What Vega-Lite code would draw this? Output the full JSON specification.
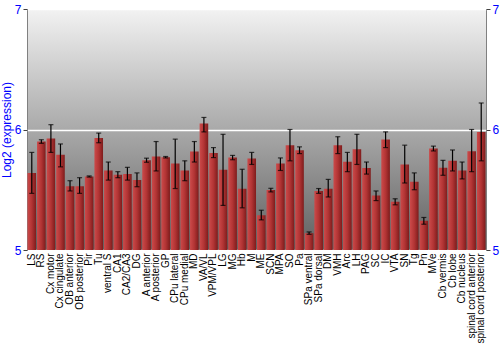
{
  "$schema": "https://vega.github.io/schema/vega-lite/v6.json",
  "width": 459,
  "height": 241,
  "autosize": "none",
  "padding": {"left": 27, "top": 9, "right": 14, "bottom": 100},
  "background": "white",
  "view": {
    "stroke": "#808080",
    "fill": {"gradient": "linear", "x1": 0, "y1": 0, "x2": 0, "y2": 1, "stops": [{"offset": 0, "color": "#f2f2f2"}, {"offset": 1, "color": "#606060"}]}
  },
  "config": {
    "font": "Liberation Sans",
    "axis": {"domainColor": "#808080", "tickColor": "#404040"}
  },
  "data": {"values": [
    {"region": "LS", "value": 5.64, "lo": 5.47, "hi": 5.81},
    {"region": "RS", "value": 5.90, "lo": 5.885, "hi": 5.915},
    {"region": "Cx motor", "value": 5.925, "lo": 5.81, "hi": 6.04},
    {"region": "Cx cingulate", "value": 5.79, "lo": 5.69, "hi": 5.88},
    {"region": "OB anterior", "value": 5.53, "lo": 5.49, "hi": 5.575},
    {"region": "OB posterior", "value": 5.53, "lo": 5.47, "hi": 5.60},
    {"region": "Pir", "value": 5.61, "lo": 5.605, "hi": 5.615},
    {"region": "Tu", "value": 5.93, "lo": 5.89, "hi": 5.97},
    {"region": "ventral S", "value": 5.66, "lo": 5.58, "hi": 5.73},
    {"region": "CA1", "value": 5.625, "lo": 5.60, "hi": 5.65},
    {"region": "CA2/CA3", "value": 5.63, "lo": 5.58, "hi": 5.686},
    {"region": "DG", "value": 5.58, "lo": 5.525, "hi": 5.64},
    {"region": "A anterior", "value": 5.745, "lo": 5.728, "hi": 5.762},
    {"region": "A posterior", "value": 5.775, "lo": 5.656, "hi": 5.90},
    {"region": "GP", "value": 5.77, "lo": 5.764, "hi": 5.776},
    {"region": "CPu lateral", "value": 5.717, "lo": 5.51, "hi": 5.92},
    {"region": "CPu medial", "value": 5.66, "lo": 5.575, "hi": 5.74},
    {"region": "MD", "value": 5.817, "lo": 5.73, "hi": 5.90},
    {"region": "VA/VL", "value": 6.05, "lo": 5.98, "hi": 6.10},
    {"region": "VPM/VPL", "value": 5.805, "lo": 5.767, "hi": 5.85},
    {"region": "LG", "value": 5.667, "lo": 5.37, "hi": 5.96},
    {"region": "MG", "value": 5.767, "lo": 5.749, "hi": 5.785},
    {"region": "Hb", "value": 5.508, "lo": 5.35, "hi": 5.67},
    {"region": "M", "value": 5.76, "lo": 5.71, "hi": 5.81},
    {"region": "ME", "value": 5.289, "lo": 5.25, "hi": 5.33},
    {"region": "SCN", "value": 5.497, "lo": 5.482, "hi": 5.512},
    {"region": "MPA", "value": 5.717, "lo": 5.66, "hi": 5.764},
    {"region": "SO", "value": 5.87, "lo": 5.74, "hi": 6.0},
    {"region": "Pa", "value": 5.828, "lo": 5.80, "hi": 5.856},
    {"region": "SPa ventral", "value": 5.14, "lo": 5.13, "hi": 5.15},
    {"region": "SPa dorsal", "value": 5.49, "lo": 5.47, "hi": 5.51},
    {"region": "DM", "value": 5.508, "lo": 5.44, "hi": 5.586},
    {"region": "VMH", "value": 5.87, "lo": 5.80, "hi": 5.94},
    {"region": "Arc", "value": 5.733, "lo": 5.65, "hi": 5.81},
    {"region": "LH", "value": 5.836, "lo": 5.71, "hi": 5.96},
    {"region": "PAG", "value": 5.68, "lo": 5.63, "hi": 5.73},
    {"region": "SC", "value": 5.453, "lo": 5.41, "hi": 5.49},
    {"region": "IC", "value": 5.917, "lo": 5.85, "hi": 5.98},
    {"region": "VTA", "value": 5.40, "lo": 5.375, "hi": 5.425},
    {"region": "SN", "value": 5.71, "lo": 5.556, "hi": 5.87},
    {"region": "Tg", "value": 5.567, "lo": 5.50, "hi": 5.64},
    {"region": "Pn", "value": 5.242, "lo": 5.214, "hi": 5.27},
    {"region": "MVe", "value": 5.842, "lo": 5.822, "hi": 5.862},
    {"region": "Cb vermis", "value": 5.683, "lo": 5.62, "hi": 5.744},
    {"region": "Cb lobe", "value": 5.74, "lo": 5.656, "hi": 5.83},
    {"region": "Cb nucleus", "value": 5.66, "lo": 5.59, "hi": 5.73},
    {"region": "spinal cord anterior", "value": 5.82, "lo": 5.65, "hi": 6.0},
    {"region": "spinal cord posterior", "value": 5.98, "lo": 5.74, "hi": 6.22}
  ]},
  "encoding": {
    "x": {
      "field": "region", "type": "nominal", "sort": null,
      "scale": {"paddingInner": 0.1, "paddingOuter": 0.05},
      "axis": {"title": null, "labelAngle": -90, "labelFontSize": 10, "labelColor": "black", "ticks": false, "labelPadding": 3, "domain": false, "labelOverlap": false}
    }
  },
  "resolve": {"axis": {"y": "independent"}},
  "layer": [
    {
      "mark": {"type": "bar", "clip": true, "color": {"gradient": "linear", "x1": 0, "y1": 0, "x2": 1, "y2": 0, "stops": [{"offset": 0, "color": "#cc4a4a"}, {"offset": 0.5, "color": "#b23434"}, {"offset": 1, "color": "#7e1c1c"}]}},
      "encoding": {
        "y": {
          "field": "value", "type": "quantitative",
          "scale": {"domain": [5, 7], "zero": false, "nice": false},
          "axis": {"title": "Log2 (expression)", "titleColor": "blue", "titleFontSize": 12, "titleFontWeight": "normal", "titlePadding": 1, "labelColor": "blue", "labelFontSize": 12, "format": ".0f", "values": [5, 6, 7], "grid": true, "gridColor": "white", "gridWidth": 1.5, "tickSize": 4, "labelPadding": 2, "domain": false}
        }
      }
    },
    {
      "mark": {"type": "rule", "color": "black", "strokeWidth": 1.2, "clip": true},
      "encoding": {
        "y": {"field": "lo", "type": "quantitative", "axis": {"orient": "right", "title": null, "labelColor": "blue", "labelFontSize": 12, "format": ".0f", "values": [5, 6, 7], "grid": false, "tickSize": 4, "labelPadding": 2, "domain": false}},
        "y2": {"field": "hi"}
      }
    },
    {
      "mark": {"type": "tick", "color": "black", "size": 5, "thickness": 1.2, "clip": true},
      "encoding": {"y": {"field": "lo", "type": "quantitative", "axis": null}}
    },
    {
      "mark": {"type": "tick", "color": "black", "size": 5, "thickness": 1.2, "clip": true},
      "encoding": {"y": {"field": "hi", "type": "quantitative", "axis": null}}
    }
  ]
}
